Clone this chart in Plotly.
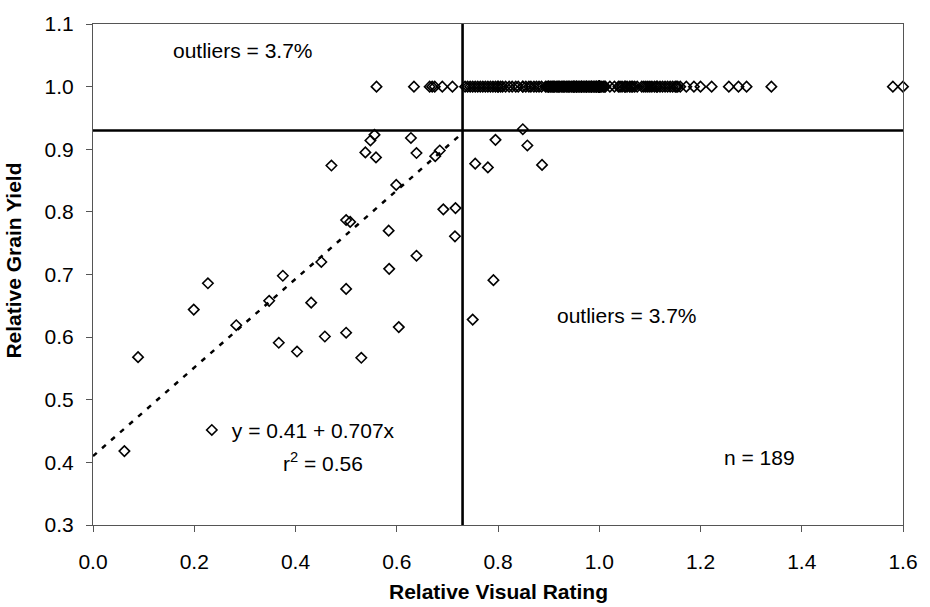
import plotly.graph_objects as go
import numpy as np

# Points below full yield (relative visual rating, relative grain yield)
low_x = [0.556, 0.548, 0.538, 0.559, 0.628, 0.639, 0.471, 0.685, 0.676, 0.755,
         0.599, 0.692, 0.716, 0.715, 0.500, 0.508, 0.584, 0.639, 0.585, 0.451,
         0.375, 0.500, 0.431, 0.348, 0.227, 0.199, 0.283, 0.367, 0.403, 0.458,
         0.089, 0.062, 0.604, 0.500, 0.530, 0.849, 0.795, 0.858, 0.780, 0.887,
         0.791, 0.750]
low_y = [0.923, 0.914, 0.895, 0.887, 0.918, 0.894, 0.874, 0.898, 0.889, 0.877,
         0.843, 0.804, 0.806, 0.761, 0.787, 0.784, 0.770, 0.730, 0.709, 0.720,
         0.698, 0.677, 0.655, 0.658, 0.686, 0.644, 0.619, 0.591, 0.577, 0.601,
         0.568, 0.418, 0.616, 0.607, 0.567, 0.932, 0.915, 0.906, 0.871, 0.875,
         0.691, 0.628]

# Points at full relative yield (1.0)
top_x = [0.56, 0.634, 0.665, 0.670, 0.675, 0.690, 0.710,
         0.735, 0.740, 0.745, 0.750, 0.755, 0.760, 0.765, 0.770, 0.775, 0.780, 0.785, 0.790, 0.795, 0.800,
         0.800, 0.805, 0.809, 0.815, 0.822, 0.828, 0.835, 0.840, 0.849, 0.849, 0.855, 0.861, 0.865, 0.871,
         0.876, 0.881, 0.886, 0.894, 0.897, 0.900,
         0.900, 0.903, 0.905, 0.908, 0.910, 0.912, 0.915, 0.918, 0.920, 0.922, 0.925, 0.928, 0.930, 0.932,
         0.935, 0.938, 0.940, 0.942, 0.945, 0.948, 0.950, 0.950, 0.952, 0.955, 0.958,
         0.960, 0.962, 0.965, 0.968, 0.970, 0.972, 0.975, 0.978, 0.980, 0.982, 0.985, 0.988, 0.990, 0.992,
         0.995, 0.998, 1.000, 1.000, 1.000, 1.000, 1.000, 1.000, 1.000, 1.000, 1.000,
         0.955, 0.965, 0.975, 0.985, 0.995,
         1.000, 1.000, 1.000, 1.000, 1.002, 1.005, 1.008, 1.010, 1.012, 1.021, 1.030, 1.038, 1.041, 1.045,
         1.050, 1.052, 1.055, 1.060, 1.063, 1.066,
         1.070, 1.075, 1.084, 1.088, 1.092, 1.096, 1.100, 1.104, 1.109, 1.113, 1.115, 1.120, 1.125, 1.130,
         1.135, 1.140, 1.145, 1.150, 1.152, 1.155,
         1.160, 1.172, 1.187, 1.200, 1.222, 1.256, 1.275, 1.291, 1.340, 1.580, 1.600]
top_y = [1.0] * len(top_x)

# Regression
intercept = 0.41
slope = 0.707
r2 = 0.56
fit_x = np.array([0.0, 0.73])
fit_y = intercept + slope * fit_x

# Thresholds
x_thresh = 0.73
y_thresh = 0.93

x_ticks = [0.0, 0.2, 0.4, 0.6, 0.8, 1.0, 1.2, 1.4, 1.6]
y_ticks = [0.3, 0.4, 0.5, 0.6, 0.7, 0.8, 0.9, 1.0, 1.1]

all_x = low_x + top_x
all_y = low_y + top_y

FONT = "Liberation Sans, Arial, sans-serif"

fig = go.Figure()

fig.add_trace(go.Scatter(
    x=fit_x, y=fit_y, mode="lines",
    line=dict(color="black", width=2.5, dash="5px,7px"),
    showlegend=False, hoverinfo="skip"))

fig.add_trace(go.Scatter(
    x=all_x, y=all_y, mode="markers",
    name="y = 0.41 + 0.707x",
    marker=dict(symbol="diamond-open", size=8, color="black",
                line=dict(color="black", width=1.6)),
    cliponaxis=False, showlegend=True))

fig.add_shape(type="line", x0=x_thresh, x1=x_thresh, y0=0.3, y1=1.1,
              xref="x", yref="y", line=dict(color="black", width=2.6))
fig.add_shape(type="line", x0=0.0, x1=1.6, y0=y_thresh, y1=y_thresh,
              xref="x", yref="y", line=dict(color="black", width=2.6))

ann_font = dict(family=FONT, size=21, color="black")
fig.add_annotation(x=0.154, y=1.058, text="outliers = 3.7%", showarrow=False,
                   xanchor="left", yanchor="middle", font=ann_font)
fig.add_annotation(x=0.913, y=0.634, text="outliers = 3.7%", showarrow=False,
                   xanchor="left", yanchor="middle", font=ann_font)
fig.add_annotation(x=1.316, y=0.407, text="n = 189", showarrow=False,
                   xanchor="center", yanchor="middle", font=ann_font)
fig.add_annotation(x=0.372, y=0.401, text="r<sup>2</sup> = 0.56", showarrow=False,
                   xanchor="left", yanchor="middle", font=ann_font)

# axis titles
fig.add_annotation(xref="paper", yref="paper", x=0.5, y=-0.132,
                   text="<b>Relative Visual Rating</b>", showarrow=False,
                   xanchor="center", yanchor="middle",
                   font=dict(family=FONT, size=21, color="black"))
fig.add_annotation(xref="paper", yref="paper", x=-0.098, y=0.527,
                   text="<b>Relative Grain Yield</b>", showarrow=False, textangle=-90,
                   xanchor="center", yanchor="middle",
                   font=dict(family=FONT, size=21, color="black"))

fig.update_layout(
    width=930, height=607,
    margin=dict(l=93, r=19, t=16, b=82),
    plot_bgcolor="white", paper_bgcolor="white",
    font=dict(family=FONT, size=21, color="black"),
    legend=dict(x=0.122, y=0.189, xanchor="left", yanchor="middle",
                bgcolor="rgba(0,0,0,0)", font=dict(family=FONT, size=21),
                itemwidth=30, tracegroupgap=0),
    xaxis=dict(range=[0, 1.6], tickvals=x_ticks, ticktext=[f"{v:.1f}" for v in x_ticks],
               showgrid=False, zeroline=False, showline=True, linecolor="#555",
               linewidth=1, mirror=True, ticks="outside", ticklen=6, tickcolor="#555",
               ticklabelstandoff=12),
    yaxis=dict(range=[0.3, 1.1], tickvals=y_ticks, ticktext=[f"{v:.1f}" for v in y_ticks],
               showgrid=False, zeroline=False, showline=True, linecolor="#555",
               linewidth=1, mirror=True, ticks="outside", ticklen=6, tickcolor="#555",
               ticklabelstandoff=8),
)

fig.write_html("out.html")
